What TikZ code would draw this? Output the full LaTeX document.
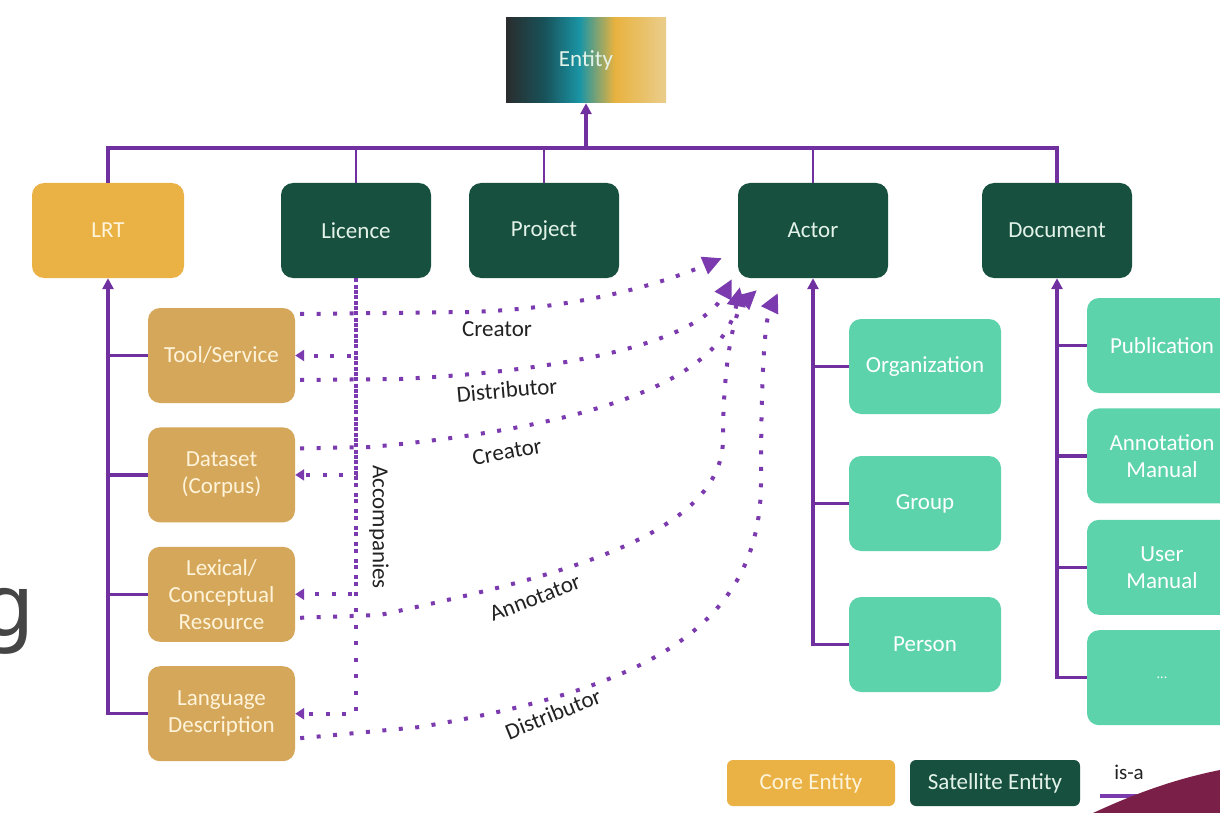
\documentclass[tikz,border=0pt]{standalone}
\usepackage{fontspec}
\setmainfont{Carlito}
\newfontfamily\slidefont{DejaVu Sans}
\usetikzlibrary{arrows.meta,positioning,calc}

\definecolor{coregold}{HTML}{EAB245}
\definecolor{satgreen}{HTML}{17503E}
\definecolor{lrtsub}{HTML}{D5A75B}
\definecolor{mint}{HTML}{5CD3AA}
\definecolor{isapurple}{HTML}{7030A0}
\definecolor{relpurple}{HTML}{7B3AAE}
\definecolor{paletext}{HTML}{FFF4DA}
\definecolor{greentext}{HTML}{E4F3EA}
\definecolor{labeltext}{HTML}{222222}
\definecolor{maroon}{HTML}{7A1F47}
\definecolor{entdark}{HTML}{2A2C2D}
\definecolor{entdeep}{HTML}{18525A}
\definecolor{entteal}{HTML}{1A95A5}
\definecolor{entgold}{HTML}{E8B23F}
\definecolor{entpale}{HTML}{EACD8C}

\pgfdeclarehorizontalshading{entityfade}{100bp}{color(0bp)=(entdark); color(25bp)=(entdark); color(37bp)=(entdeep); color(48bp)=(entteal); color(59bp)=(entgold); color(75bp)=(entpale); color(100bp)=(entpale)}

\tikzset{
	x=1pt, y=-1pt, node distance=24pt and 24pt,
	box/.style={rounded corners=12pt, inner sep=0pt, align=center, minimum height=95pt,
		font=\fontsize{23}{27}\selectfont},
	core/.style={box, fill=coregold, text=paletext, minimum width=152pt},
	satellite/.style={box, fill=satgreen, text=greentext, minimum width=150pt},
	lrtkind/.style={box, fill=lrtsub, text=paletext, minimum width=147pt},
	actorkind/.style={box, fill=mint, text=white, minimum width=152pt},
	isline/.style={draw=isapurple, line width=3.5pt},
	isa/.style={isline, -{Triangle[length=11pt,width=11pt]}},
	rel/.style={draw=relpurple, line width=4pt, dash pattern=on 4pt off 12.5pt,
		-{Triangle[length=19pt,width=18pt]}},
	accomp/.style={rel, -{Triangle[length=9pt,width=11pt]}},
	lbl/.style={font=\fontsize{23}{27}\selectfont, text=labeltext, inner sep=1pt}
}

\begin{document}
\begin{tikzpicture}
	\useasboundingbox (0,0) rectangle (1220,813);
	\clip (0,0) rectangle (1220,813);
	\fill[white] (0,0) rectangle (1220,813);

	% leftover letter from the slide
	\node[anchor=base east, inner sep=0pt, text=black!73, font=\slidefont\fontsize{86}{86}\selectfont] (slideg) at (35,636) {g};

	% top level
	\node[box, minimum width=160pt, minimum height=85pt, rounded corners=0pt, shading=entityfade, text=greentext] (entity) at (586,60.5) {Entity};
	\node[core] (lrt) at (108,230.5) {LRT};
	\node[satellite] (licence) at (356,230.5) {Licence};
	\node[satellite] (project) at (544,230.5) {Project};
	\node[satellite] (actor) at (813,230.5) {Actor};
	\node[satellite] (document) at (1057,230.5) {Document};

	% kinds of LRT
	\node[lrtkind] (tool) at (221.5,355.5) {Tool/Service};
	\node[lrtkind] (dataset) [below =of tool] {Dataset\\(Corpus)};
	\node[lrtkind] (lexical) [below =of dataset] {Lexical/\\Conceptual\\Resource};
	\node[lrtkind] (langdesc) [below =of lexical] {Language\\Description};

	% kinds of actor
	\node[actorkind] (organization) at (925,366.5) {Organization};
	\node[actorkind] (group) at (925,503.5) {Group};
	\node[actorkind] (person) at (925,644.5) {Person};

	% kinds of document
	\node[actorkind, minimum width=150pt] (publication) at (1162,345.5) {Publication};
	\node[actorkind, minimum width=150pt] (annotmanual) [below =15pt of publication] {Annotation\\Manual};
	\node[actorkind, minimum width=150pt] (usermanual) [below =16pt of annotmanual] {User\\Manual};
	\node[actorkind, minimum width=150pt, font=\fontsize{14}{16}\selectfont] (moredocs) [below =15pt of usermanual] {...};

	% is-a tree
	\coordinate (bus) at (586,148);
	\draw[isa] (bus) -- (entity.south);
	\draw[isline] (lrt.north) -- (lrt.north |- bus) -- (document.north |- bus) -- (document.north);
	\foreach \n in {licence,project,actor}
		\draw[isline, line width=2.5pt] (\n.north) -- (\n.north |- bus);

	\draw[isa] (langdesc.west) -| (lrt.south);
	\foreach \n in {tool,dataset,lexical}
		\draw[isline] (\n.west) -- (\n.west -| lrt.south);
	\draw[isa] (person.west) -| (actor.south);
	\foreach \n in {organization,group}
		\draw[isline] (\n.west) -- (\n.west -| actor.south);
	\draw[isa] (moredocs.west) -| (document.south);
	\foreach \n in {publication,annotmanual,usermanual}
		\draw[isline] (\n.west) -- (\n.west -| document.south);

	% licence accompanies every LRT
	\foreach \n/\ph in {tool/0pt,dataset/5pt,lexical/10pt,langdesc/0pt}
		\draw[accomp, dash phase=\ph] (licence.south) |- (\n.east);
	\node[lbl, rotate=-90] (accompanies) at (379,527) {Accompanies};

	% relations ending at the actor
	\coordinate (hitA) at ([shift={(-16,-20)}]actor.south west);
	\coordinate (hitB) at ([shift={(-6,1)}]actor.south west);
	\coordinate (hitC) at ([shift={(2,9)}]actor.south west);
	\coordinate (hitD) at ([shift={(19,12)}]actor.south west);
	\coordinate (hitE) at ([shift={(40,15)}]actor.south west);

	\draw[rel] ([shift={(5,-41.5)}]tool.east) -- (470,312) .. controls (590,308) and (670,280) .. (hitA);
	\draw[rel] ([shift={(5,24.5)}]tool.east) -- (400,379) .. controls (580,370) and (700,340) .. (hitB);
	\draw[rel] ([shift={(5,-26.5)}]dataset.east) -- (370,447) .. controls (560,430) and (720,390) .. (hitC);
	\draw[rel] ([shift={(5,23.5)}]lexical.east) -- (380,615) .. controls (540,580) and (722,540) .. (723,440) .. controls (723,360) and (735,310) .. (hitD);
	\draw[rel] ([shift={(5,24.5)}]langdesc.east) -- (420,727) .. controls (640,690) and (762,630) .. (761,480) .. controls (761,370) and (765,320) .. (hitE);

	\node[lbl] (creatortool) at (497,329) {Creator};
	\node[lbl, rotate=5] (distribtool) at (507,390) {Distributor};
	\node[lbl, rotate=10] (creatordata) at (507,452) {Creator};
	\node[lbl, rotate=21] (annotator) at (535,598) {Annotator};
	\node[lbl, rotate=22] (distriblang) at (553,714) {Distributor};

	% key
	\node[core, minimum width=168pt, minimum height=46pt, rounded corners=6pt] (corekey) at (811,783) {Core Entity};
	\node[satellite, minimum width=170pt, minimum height=46pt, rounded corners=6pt] (satkey) at (995,783) {Satellite Entity};
	\node[lbl, font=\fontsize{21}{24}\selectfont] (isakey) at (1129,772) {is-a};
	\coordinate (isaL) at (1100,796);
	\coordinate (isaR) at (1165,796);
	\draw[isline, draw=relpurple] (isaL) -- (isaR);

	% corner of the slide
	\fill[maroon] (1093,813) .. controls (1130,796) and (1170,780) .. (1220,770) -- (1220,813) -- cycle;
\end{tikzpicture}
\end{document}
